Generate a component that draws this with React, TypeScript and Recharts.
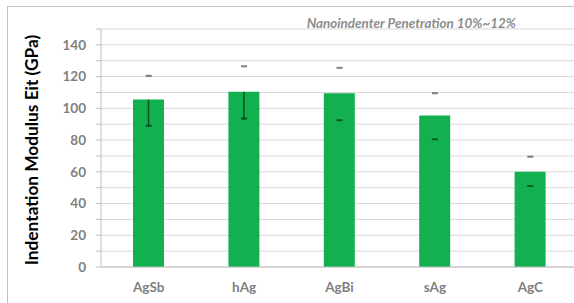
import { ComposedChart, Bar, Line, XAxis, YAxis, CartesianGrid, ErrorBar } from 'recharts';

const categories = ['AgSb', 'hAg', 'AgBi', 'sAg', 'AgC'];
const modulus = [105.5, 110.5, 109.5, 95.5, 60];
const upperCap = [120.5, 126.5, 125.5, 109.5, 69.5];
const lowerCap = [89, 93.5, 92.5, 80.5, 51];
// only the first two bars show the error line inside the bar
const innerDrop = [16.5, 17, 0, 0, 0];
const yTicks = [0, 10, 20, 30, 40, 50, 60, 70, 80, 90, 100, 110, 120, 130, 140, 150];

const data = categories.map((name, i) => ({
  name,
  modulus: modulus[i],
  upper: upperCap[i],
  lower: lowerCap[i],
  err: [innerDrop[i], 0],
}));

const font = 'Lato, "Open Sans", sans-serif';
const gray = '#7f7f7f';

const renderCap = (props: any) => {
  const { cx, cy, key } = props;
  if (cx == null || cy == null) return <g key={key} />;
  return <line key={key} x1={cx - 3} x2={cx + 3} y1={cy} y2={cy} stroke="rgba(0,0,0,0.5)" strokeWidth={2} />;
};

export default function App() {
  return (
    <div style={{ position: 'absolute', left: 0, top: 0, width: 574, height: 303, overflow: 'hidden', background: '#fff' }}>
      <div style={{ position: 'absolute', left: 7, top: 6, width: 620, height: 360, border: '1px solid #c0c0c0' }} />
      <div
        style={{
          position: 'absolute',
          right: 58,
          top: 15,
          fontFamily: font,
          fontStyle: 'italic',
          fontWeight: 700,
          fontSize: 13.4,
          color: '#8c8c8c',
          whiteSpace: 'nowrap',
        }}
      >
        Nanoindenter Penetration 10%~12%
      </div>
      <svg style={{ position: 'absolute', left: 0, top: 0 }} width={60} height={303}>
        <text
          x={38}
          y={150}
          transform="rotate(-90 38 150)"
          textAnchor="middle"
          fontFamily={font}
          fontWeight={700}
          fontSize={17.3}
          fill="#000"
        >
          Indentation Modulus Eit (GPa)
        </text>
      </svg>
      <div style={{ position: 'absolute', left: 0, top: 0 }}>
        <ComposedChart width={578} height={303} data={data} margin={{ top: 29, right: 0, bottom: 0, left: 0 }}>
          <CartesianGrid vertical={false} stroke="#d9d9d9" />
          <XAxis
            dataKey="name"
            tickLine={false}
            axisLine={{ stroke: '#bfbfbf' }}
            tick={{ fill: gray, fontSize: 13.5, fontWeight: 700, fontFamily: font }}
            tickMargin={9}
            height={36}
          />
          <YAxis
            domain={[0, 150]}
            ticks={yTicks}
            interval={0}
            tickFormatter={(v: number) => (v % 20 === 0 && v < 150 ? String(v) : '')}
            tick={{ fill: gray, fontSize: 13.5, fontWeight: 700, fontFamily: font }}
            axisLine={{ stroke: '#bfbfbf' }}
            tickLine={{ stroke: '#bfbfbf' }}
            tickSize={5}
            tickMargin={10}
            width={101}
          />
          <Bar dataKey="modulus" fill="#12b04f" barSize={31} isAnimationActive={false}>
            <ErrorBar dataKey="err" width={0} strokeWidth={1.5} stroke="rgba(0,0,0,0.55)" direction="y" />
          </Bar>
          <Line dataKey="upper" stroke="none" dot={renderCap} activeDot={false} legendType="none" isAnimationActive={false} />
          <Line dataKey="lower" stroke="none" dot={renderCap} activeDot={false} legendType="none" isAnimationActive={false} />
        </ComposedChart>
      </div>
    </div>
  );
}
